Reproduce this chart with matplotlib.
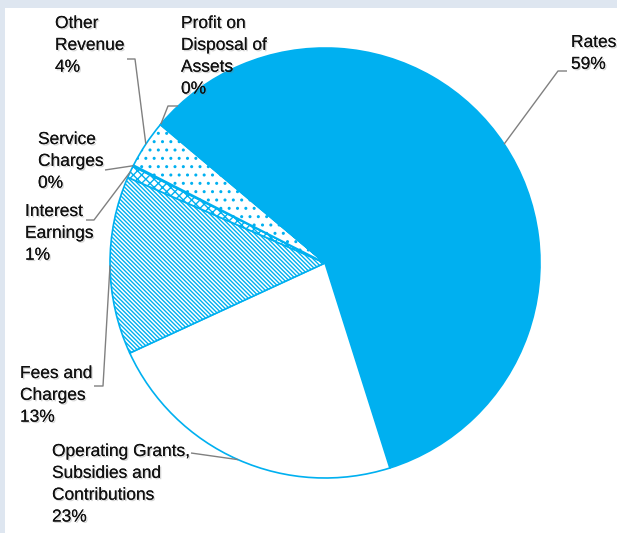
import numpy as np
import matplotlib
matplotlib.use("Agg")
import matplotlib.pyplot as plt
import matplotlib.patheffects as pe
from matplotlib.patches import Rectangle

# ---- data ----
categories = ["Rates", "Operating Grants,\nSubsidies and\nContributions", "Fees and\nCharges",
              "Interest\nEarnings", "Service\nCharges", "Other\nRevenue",
              "Profit on\nDisposal of\nAssets"]
values = [58.9, 23.0, 13.4, 0.9, 0.1, 3.6, 0.1]

BLUE = "#00b0f0"
W, H = 617, 533

plt.rcParams["hatch.linewidth"] = 1.0

fig = plt.figure(figsize=(W / 100, H / 100), dpi=100)
fig.patch.set_facecolor("#dee6f0")
fig.add_artist(Rectangle((5 / W, 0), 1, 1 - 8 / H, transform=fig.transFigure,
                         facecolor="white", edgecolor="none", zorder=0))

ax = fig.add_axes([0, 0, 1, 1])
ax.patch.set_alpha(0)

cx, cy, R = 325, H - 263, 215
facecols = [BLUE, "white", "white", "white", BLUE, "white", BLUE]
hatches = [None, None, "\\\\\\\\\\\\\\\\", "xxxx", None, "..", None]

wedges, _ = ax.pie(values, colors=facecols, startangle=139.6, counterclock=False,
                   center=(cx, cy), radius=R, frame=True,
                   wedgeprops=dict(edgecolor=BLUE, linewidth=1.2))
ax.set_xlim(0, W)
ax.set_ylim(0, H)
ax.set_aspect("equal")
ax.axis("off")
for w, h in zip(wedges, hatches):
    if h:
        w.set_hatch(h)

# label layout (image pixel coords, top-left of text) and leader elbows
label_pos = [(571, 35), (52, 444), (20, 366), (25, 204), (38, 132), (55, 16), (181, 16)]
elbows = [
    [(567, 71), (558, 71)],
    [(191, 453)],
    [(94, 386), (103, 386)],
    [(86, 220), (94, 220)],
    [(105, 170)],
    [(127, 59), (135, 59)],
    [(178, 106), (168, 106)],
]

shadow = [pe.withSimplePatchShadow(offset=(1, -1), shadow_rgbFace="#777777", alpha=0.3),
          pe.Normal()]
fam = ["Liberation Sans", "DejaVu Sans"]

for w, cat, val, (lx, ly), elb in zip(wedges, categories, values, label_pos, elbows):
    txt = f"{cat}\n{int(round(val))}%"
    ax.text(lx, H - ly, txt, ha="left", va="top", fontsize=12.5, family=fam,
            color="#111111", linespacing=1.57, path_effects=shadow, zorder=5)
    th = np.deg2rad((w.theta1 + w.theta2) / 2)
    ex, ey = cx + R * np.cos(th), cy + R * np.sin(th)
    xs = [p[0] for p in elb] + [ex]
    ys = [H - p[1] for p in elb] + [ey]
    ax.plot(xs, ys, color="#808080", lw=1.0, zorder=4, solid_capstyle="butt")

fig.savefig("out.png", dpi=100, facecolor=fig.get_facecolor())
